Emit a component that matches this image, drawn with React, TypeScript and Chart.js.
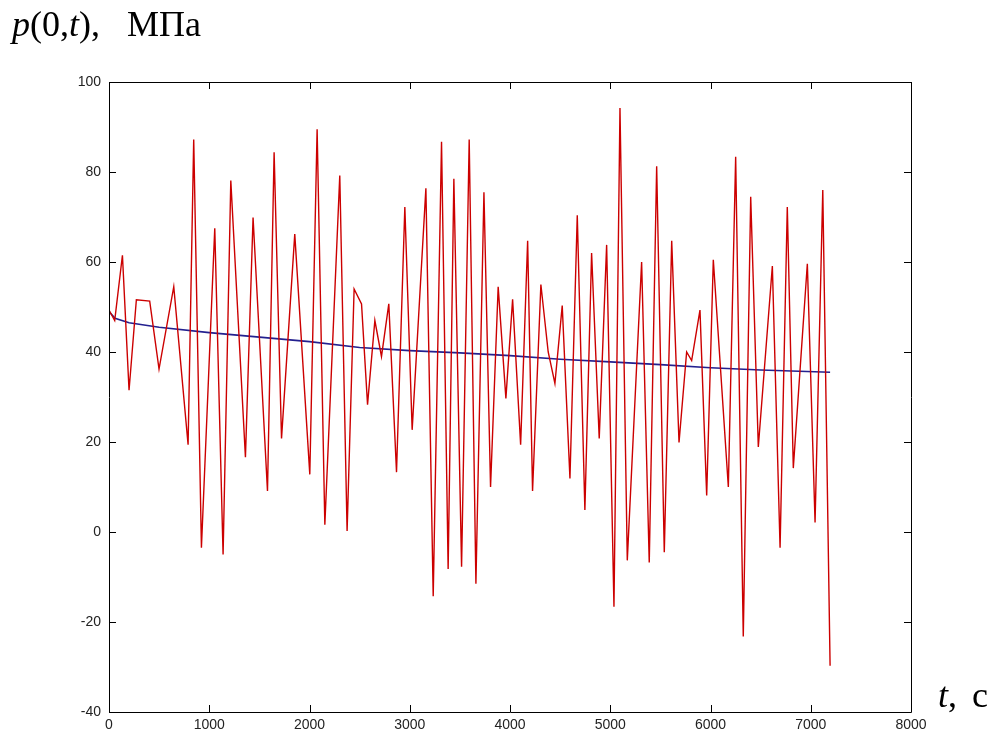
import React, { useEffect, useRef } from "react";
import { Chart, registerables } from "chart.js";

Chart.register(...registerables);

// Red series: pressure p(0,t), MPa (extrema)
const redT = [0, 57, 134, 200, 273, 406, 499, 646, 789, 845, 922, 1055, 1138, 1215, 1361, 1437, 1581, 1647, 1721, 1853, 2003, 2076, 2153, 2302, 2375, 2445, 2519, 2579, 2652, 2718, 2791, 2868, 2951, 3024, 3161, 3234, 3317, 3383, 3440, 3517, 3593, 3660, 3740, 3806, 3882, 3959, 4026, 4106, 4176, 4225, 4308, 4381, 4448, 4521, 4598, 4671, 4747, 4814, 4890, 4964, 5037, 5097, 5170, 5313, 5389, 5463, 5539, 5613, 5686, 5762, 5812, 5895, 5962, 6028, 6178, 6251, 6327, 6401, 6477, 6617, 6694, 6766, 6826, 6966, 7043, 7120, 7193];
const redP = [49.3, 47, 61.5, 31.5, 51.6, 51.3, 36.2, 54.5, 19.4, 87.2, -3.5, 67.5, -5, 78.1, 16.6, 69.9, 9.1, 84.4, 20.8, 66.2, 12.8, 89.5, 1.6, 79.2, 0.2, 54, 50.7, 28.3, 47, 39, 50.7, 13.3, 72.2, 22.7, 76.4, -14.3, 86.7, -8.2, 78.5, -7.7, 87.2, -11.5, 75.5, 10, 54.5, 29.7, 51.7, 19.4, 64.7, 9.1, 55, 40, 33, 50.3, 11.9, 70.4, 4.9, 62, 20.8, 63.8, -16.6, 94.2, -6.3, 60, -6.8, 81.3, -4.5, 64.7, 19.9, 40, 38.1, 49.3, 8.1, 60.5, 10, 83.4, -23.2, 74.5, 18.9, 59.1, -3.5, 72.2, 14.2, 59.6, 2.1, 76, -29.7];

// Blue series: slow trend
const blueT = [0, 60, 200, 500, 1000, 1500, 2000, 2500, 3000, 3500, 4000, 4500, 5000, 5500, 6000, 6500, 7193];
const blueP = [49, 47.5, 46.5, 45.5, 44.3, 43.3, 42.3, 41, 40.3, 39.8, 39.2, 38.4, 37.8, 37.2, 36.5, 36, 35.5];

const xTicks = [0, 1000, 2000, 3000, 4000, 5000, 6000, 7000, 8000];
const yTicks = [-40, -20, 0, 20, 40, 60, 80, 100];

const titleParts = [
  { text: "p", italic: true },
  { text: "(0,", italic: false },
  { text: "t", italic: true },
  { text: "),", italic: false },
];
const titleUnit = "МПа";
const xLabelVar = "t";
const xLabelUnit = "c";

const serif = '"Liberation Serif", "Times New Roman", serif';

const frame = {
  id: "frame",
  afterDatasetsDraw(chart: any) {
    const { ctx, chartArea, scales } = chart;
    const { left, right, top, bottom } = chartArea;
    ctx.save();
    ctx.strokeStyle = "#000";
    ctx.lineWidth = 1;
    ctx.beginPath();
    ctx.rect(Math.round(left) + 0.5, Math.round(top) + 0.5, Math.round(right - left), Math.round(bottom - top));
    ctx.stroke();
    const tl = 7;
    ctx.beginPath();
    for (const v of xTicks) {
      const px = Math.round(scales.x.getPixelForValue(v)) + 0.5;
      ctx.moveTo(px, bottom);
      ctx.lineTo(px, bottom - tl);
      ctx.moveTo(px, top);
      ctx.lineTo(px, top + tl);
    }
    for (const v of yTicks) {
      const py = Math.round(scales.y.getPixelForValue(v)) + 0.5;
      ctx.moveTo(left, py);
      ctx.lineTo(left + tl, py);
      ctx.moveTo(right, py);
      ctx.lineTo(right - tl, py);
    }
    ctx.stroke();

    // titles
    ctx.fillStyle = "#000";
    ctx.textBaseline = "alphabetic";
    const fs = 36;
    let x = 12;
    for (const p of titleParts) {
      ctx.font = `${p.italic ? "italic " : ""}${fs}px ${serif}`;
      ctx.fillText(p.text, x, 36);
      x += ctx.measureText(p.text).width;
    }
    ctx.font = `${fs}px ${serif}`;
    const uw = ctx.measureText(titleUnit).width;
    ctx.fillText(titleUnit, 201 - uw, 36);

    ctx.font = `italic ${fs}px ${serif}`;
    ctx.fillText(xLabelVar, 938, 707);
    const tw = ctx.measureText(xLabelVar).width;
    ctx.font = `${fs}px ${serif}`;
    ctx.fillText(",", 938 + tw, 707);
    const cw = ctx.measureText(xLabelUnit).width;
    ctx.fillText(xLabelUnit, 988 - cw, 707);
    ctx.restore();
  },
};

export default function App() {
  const ref = useRef<HTMLCanvasElement>(null);
  useEffect(() => {
    if (!ref.current) return;
    const red = redT.map((t, i) => ({ x: t, y: redP[i] }));
    const blue = blueT.map((t, i) => ({ x: t, y: blueP[i] }));
    const tickFont = { family: '"Liberation Sans", Arial, sans-serif', size: 14 };
    const chart = new Chart(ref.current, {
      type: "line",
      data: {
        datasets: [
          { data: red, borderColor: "#cc0000", borderWidth: 1.4, pointRadius: 0, tension: 0, fill: false },
          { data: blue, borderColor: "#23208f", borderWidth: 1.6, pointRadius: 0, tension: 0, fill: false },
        ],
      },
      options: {
        responsive: false,
        animation: false,
        events: [],
        layout: { padding: { left: 0, top: 82, right: 84, bottom: 0 } },
        plugins: { legend: { display: false }, tooltip: { enabled: false } },
        scales: {
          x: {
            type: "linear",
            min: 0,
            max: 8000,
            afterBuildTicks: (s: any) => {
              s.ticks = xTicks.map((v) => ({ value: v }));
            },
            ticks: { color: "#222", font: tickFont, padding: 5, maxRotation: 0, autoSkip: false, callback: (v: any) => String(v) },
            grid: { display: false, drawTicks: false },
            border: { display: false },
            afterFit: (s: any) => {
              s.height = 35;
            },
          },
          y: {
            type: "linear",
            min: -40,
            max: 100,
            afterBuildTicks: (s: any) => {
              s.ticks = yTicks.map((v) => ({ value: v }));
            },
            ticks: { color: "#222", font: tickFont, padding: 8, autoSkip: false, callback: (v: any) => String(v) },
            grid: { display: false, drawTicks: false },
            border: { display: false },
            afterFit: (s: any) => {
              s.width = 109;
            },
          },
        },
      },
      plugins: [frame],
    });
    return () => chart.destroy();
  }, []);
  return (
    <div style={{ position: "absolute", left: 0, top: 0, width: 995, height: 747, background: "#fff" }}>
      <canvas ref={ref} width={995} height={747} style={{ display: "block" }} />
    </div>
  );
}
